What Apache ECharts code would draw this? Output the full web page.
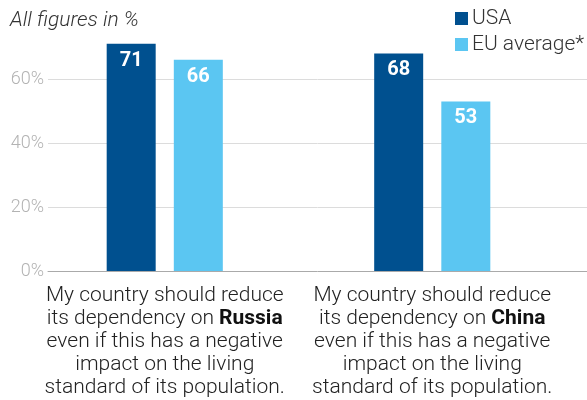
<!DOCTYPE html>
<html>
<head>
<meta charset="utf-8">
<script src="https://cdn.jsdelivr.net/npm/echarts@6/dist/echarts.min.js"></script>
<style>
  html, body { margin: 0; padding: 0; background: #fff; }
  #chart { width: 587px; height: 400px; }
</style>
</head>
<body>
<div id="chart"></div>
<script>
// Survey statements and the country named in each
const categories = ['Russia', 'China'];
const seriesNames = ['USA', 'EU average*'];
const usaValues = [71, 68];
const euValues = [66, 53];
const yTicks = [0, 20, 40, 60, 80];

const colors = { usa: '#00508f', eu: '#5bc6f2' };

function statement(country) {
  return 'My country should reduce\nits dependency on {b|' + country + '}\n' +
         'even if this has a negative\nimpact on the living\nstandard of its population.';
}

const chart = echarts.init(document.getElementById('chart'));
const font = 'Roboto, sans-serif';

const yBase = {
  type: 'value',
  min: yTicks[0],
  max: yTicks[yTicks.length - 1],
  interval: yTicks[1] - yTicks[0]
};

chart.setOption({
  animation: false,
  textStyle: { fontFamily: font },
  title: {
    text: 'All figures in %',
    left: 5, top: 5,
    textStyle: { fontFamily: font, fontStyle: 'italic', fontWeight: 300, fontSize: 21, color: '#333' }
  },
  legend: {
    orient: 'vertical',
    left: 450, top: 3,
    itemWidth: 13, itemHeight: 13, itemGap: 5,
    icon: 'rect',
    data: seriesNames,
    textStyle: { fontFamily: font, fontWeight: 300, fontSize: 21, color: '#333', padding: [0, 0, 0, -1] }
  },
  grid: [
    // background grid carrying the value gridlines and the baseline
    { left: 48, right: 0, top: 15, bottom: 129 },
    // grid holding the bars and category labels
    { left: 31, right: 21, top: 15, bottom: 129 }
  ],
  xAxis: [
    {
      gridIndex: 0, type: 'category', data: categories,
      axisLine: { show: true, lineStyle: { color: '#aaa', width: 1 } },
      axisTick: { show: false }, axisLabel: { show: false }
    },
    {
      gridIndex: 1, type: 'category', data: categories,
      axisLine: { show: false }, axisTick: { show: false },
      axisLabel: {
        interval: 0, margin: 13,
        color: '#222', fontSize: 21, fontWeight: 300, lineHeight: 23, fontFamily: font,
        formatter: statement,
        rich: { b: { fontWeight: 'bold', fontSize: 21, lineHeight: 23, color: '#111', fontFamily: font } }
      }
    }
  ],
  yAxis: [
    Object.assign({}, yBase, {
      gridIndex: 0,
      axisLine: { show: false }, axisTick: { show: false },
      axisLabel: {
        margin: 4, color: '#b3b3b3', fontSize: 18, fontWeight: 300, fontFamily: font,
        formatter: v => (v === yTicks[yTicks.length - 1] ? '' : v + '%')
      },
      splitLine: { lineStyle: { color: ['transparent', '#dcdcdc', '#dcdcdc', '#dcdcdc', 'transparent'], width: 1 } }
    }),
    Object.assign({}, yBase, {
      gridIndex: 1, show: false, splitLine: { show: false }
    })
  ],
  series: [
    {
      name: seriesNames[0], type: 'bar', xAxisIndex: 1, yAxisIndex: 1,
      data: usaValues, barWidth: 49, barGap: '37%',
      itemStyle: { color: colors.usa },
      label: { show: true, position: 'insideTop', distance: 7, color: '#fff', fontWeight: 'bold', fontSize: 20, fontFamily: font }
    },
    {
      name: seriesNames[1], type: 'bar', xAxisIndex: 1, yAxisIndex: 1,
      data: euValues, barWidth: 49, barGap: '37%',
      itemStyle: { color: colors.eu },
      label: { show: true, position: 'insideTop', distance: 7, color: '#fff', fontWeight: 'bold', fontSize: 20, fontFamily: font }
    }
  ]
});
</script>
</body>
</html>
